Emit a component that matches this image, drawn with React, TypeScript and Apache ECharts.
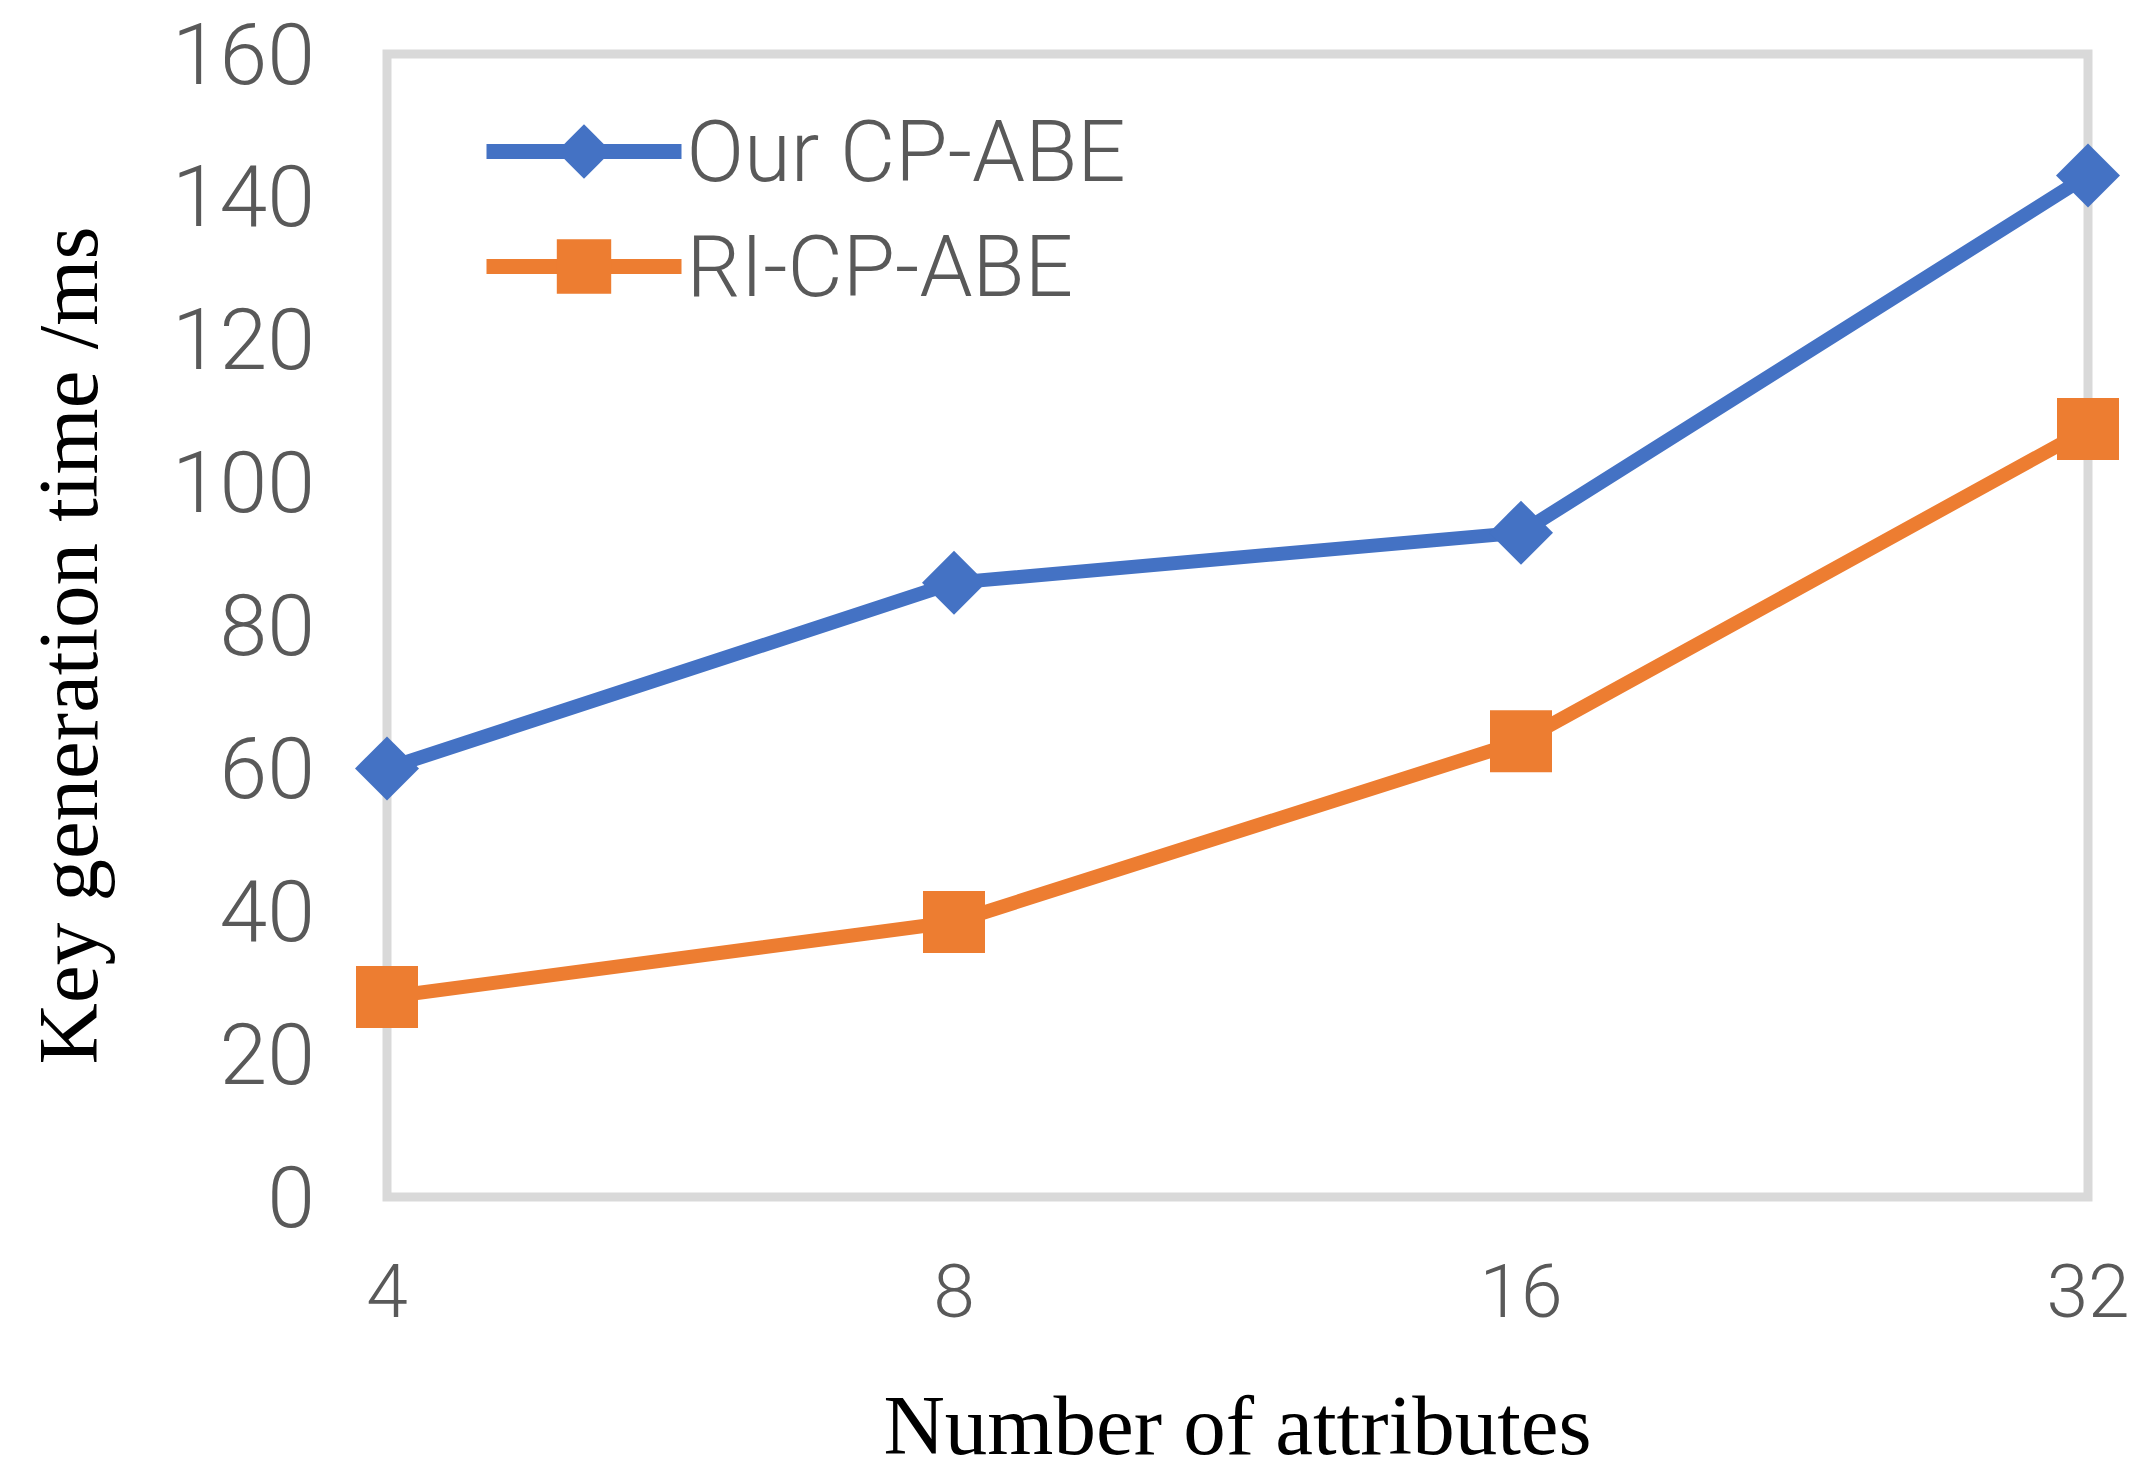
import React, { useEffect, useRef } from "react";
import * as echarts from "echarts";

const categories = ["4", "8", "16", "32"];
const ourCpAbe = [60, 86, 93, 143];
const riCpAbe = [28, 38.5, 63.8, 107.5];
const yTicks = { min: 0, max: 160, interval: 20 };
const seriesNames = ["Our CP-ABE", "RI-CP-ABE"];

const SANS = "'Liberation Sans Narrow', Roboto, sans-serif";
const SERIF = "'Liberation Serif', 'Times New Roman', serif";

export default function App() {
  const ref = useRef<HTMLDivElement>(null);
  useEffect(() => {
    if (!ref.current) return;
    const chart = echarts.init(ref.current, null, { renderer: "svg" });
    chart.setOption({
      animation: false,
      backgroundColor: "#ffffff",
      grid: {
        left: 387,
        right: 57,
        top: 54,
        bottom: 268,
        show: true,
        borderColor: "#d9d9d9",
        borderWidth: 9,
        backgroundColor: "transparent",
      },
      legend: {
        orient: "vertical",
        left: 474,
        top: 104,
        itemWidth: 195,
        itemHeight: 68,
        itemGap: 30,
        data: seriesNames,
        lineStyle: { width: 15 },
        textStyle: { fontFamily: SANS, fontSize: 85, color: "#595959", fontWeight: 300 },
      },
      xAxis: {
        type: "category",
        data: categories,
        boundaryGap: false,
        axisLine: { show: false },
        axisTick: { show: false },
        splitLine: { show: false },
        axisLabel: { fontFamily: SANS, fontSize: 75, color: "#595959", margin: 56, fontWeight: 300 },
        name: "Number of attributes",
        nameLocation: "middle",
        nameGap: 185,
        nameTextStyle: { fontFamily: SERIF, fontSize: 85, color: "#000000" },
      },
      yAxis: {
        type: "value",
        min: yTicks.min,
        max: yTicks.max,
        interval: yTicks.interval,
        axisLine: { show: false },
        axisTick: { show: false },
        splitLine: { show: false },
        axisLabel: { fontFamily: SANS, fontSize: 86, color: "#595959", margin: 72, fontWeight: 300 },
        name: "Key generation time /ms",
        nameLocation: "middle",
        nameGap: 277,
        nameTextStyle: { fontFamily: SERIF, fontSize: 85, color: "#000000", padding: [0, 40, 0, 0] },
      },
      series: [
        {
          name: seriesNames[0],
          type: "line",
          data: ourCpAbe,
          symbol: "diamond",
          symbolSize: 64,
          lineStyle: { color: "#4472C4", width: 14 },
          itemStyle: { color: "#4472C4" },
          z: 3,
        },
        {
          name: seriesNames[1],
          type: "line",
          data: riCpAbe,
          symbol: "rect",
          symbolSize: 62,
          lineStyle: { color: "#ED7D31", width: 14 },
          itemStyle: { color: "#ED7D31" },
          z: 2,
        },
      ],
    });
    return () => chart.dispose();
  }, []);
  return (
    <div
      ref={ref}
      style={{ position: "fixed", left: 0, top: 0, width: 2145, height: 1472, background: "#fff" }}
    />
  );
}
